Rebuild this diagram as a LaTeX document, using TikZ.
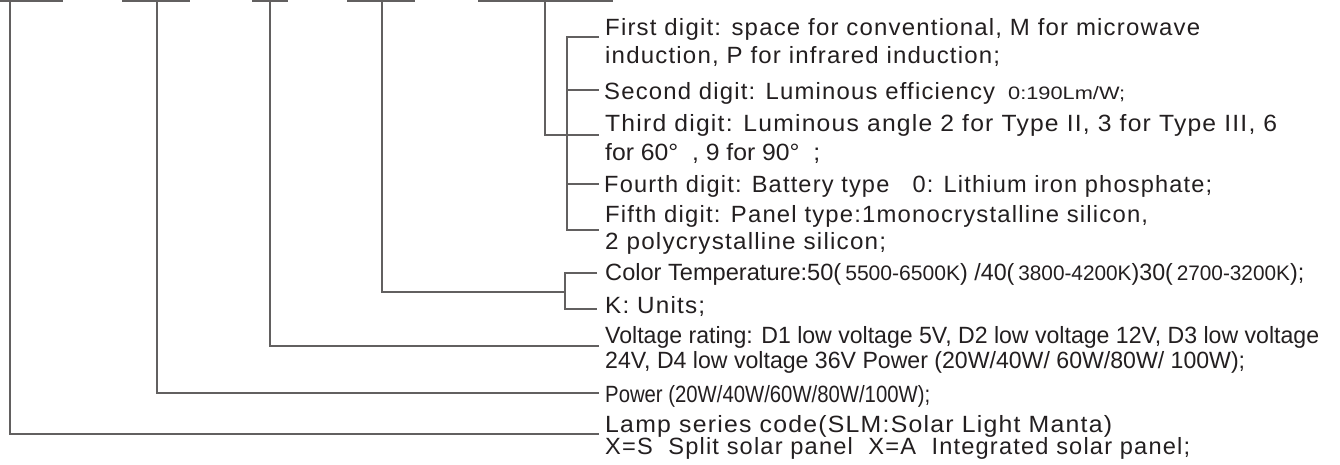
\documentclass[tikz,border=0pt]{standalone}
\usepackage{fontspec}
\setmainfont{Liberation Sans}
\newfontfamily\spacedfont[LetterSpace=5]{Liberation Sans}
\usepackage{graphicx}
\definecolor{ln}{RGB}{98,96,96}
\definecolor{tx}{RGB}{35,31,32}
\newcommand\fitw[2]{\resizebox{#1pt}{\height}{#2}}
\newcommand\smf{\fontsize{21}{24}\selectfont}
\begin{document}
\begin{tikzpicture}[x=1pt,y=-1pt,
  wire/.style={draw=ln,line width=2.5pt,line join=miter,line cap=butt},
  lbl/.style={anchor=base west,inner sep=0pt,text=tx,font=\fontsize{23.5}{27}\selectfont},
  slbl/.style={lbl,font={\spacedfont\fontsize{23.5}{27}\selectfont}},
]
\useasboundingbox[fill=white] (0,0) rectangle (1340,464);

% text lines
\node[slbl] (t1a) at (605,35) {\fitw{595}{First digit: space for conventional, M for microwave}};
\node[slbl] (t1b) at (605,63) {\fitw{395}{induction, P for infrared induction;}};
\node[slbl] (t2) at (604,99) {\fitw{391}{Second digit: Luminous efficiency}};
\node[lbl] (t2b) at (1008,99) {\fitw{117}{\fontsize{18}{21}\selectfont 0:190Lm/W;}};
\node[slbl] (t3a) at (605,131) {\fitw{672}{Third digit: Luminous angle 2 for Type II, 3 for Type III, 6}};
\node[lbl] (t3b) at (605,160) {\fitw{215}{for 60°\ \ , 9 for 90°\ \ ;}};
\node[slbl] (t4) at (604,192) {\fitw{608}{Fourth digit: Battery type\ \ \ 0: Lithium iron phosphate;}};
\node[slbl] (t5a) at (605,222) {\fitw{543}{Fifth digit: Panel type:1monocrystalline silicon,}};
\node[slbl] (t5b) at (605,249) {\fitw{281}{2 polycrystalline silicon;}};
\node[lbl] (t6) at (605,280) {\fitw{355}{Color Temperature:50(\,{\smf 5500-6500K}}\fitw{344}{) /40(\,{\smf 3800-4200K})30(\,{\smf 2700-3200K});}};
\node[slbl] (t7) at (605,313) {\fitw{100}{K: Units;}};
\node[lbl] (t8a) at (605,343) {\fitw{714}{Voltage rating: D1 low voltage 5V, D2 low voltage 12V, D3 low voltage}};
\node[lbl] (t8b) at (605,368) {\fitw{640}{24V, D4 low voltage 36V Power (20W/40W/ 60W/80W/ 100W);}};
\node[lbl] (t9) at (605,402) {\fitw{325}{Power (20W/40W/60W/80W/100W);}};
\node[slbl] (t10a) at (605,432) {\fitw{507}{Lamp series code(SLM:Solar Light Manta)}};
\node[slbl] (t10b) at (605,454) {\fitw{585}{X=S\ \ Split solar panel\ \ X=A\ \ Integrated solar panel;}};

% top bars
\coordinate (b1l) at (0,0.5);   \coordinate (b1r) at (63,0.5);
\coordinate (b2l) at (122,0.5); \coordinate (b2r) at (190,0.5);
\coordinate (b3l) at (252,0.5); \coordinate (b3r) at (288,0.5);
\coordinate (b4l) at (347,0.5); \coordinate (b4r) at (415,0.5);
\coordinate (b5l) at (478,0.5); \coordinate (b5r) at (613,0.5);
\foreach \i in {1,...,5} {\draw[wire] (b\i l) -- (b\i r);}

% stems
\coordinate (s1) at (10,0);
\coordinate (s2) at (157,0);
\coordinate (s3) at (270,0);
\coordinate (s4) at (382,0);
\coordinate (s5) at (545,0);

% lamp series
\coordinate (e10) at (599,434);
\draw[wire] (s1) -- (s1 |- e10) -- (e10);
% power
\coordinate (e9) at (599,393);
\draw[wire] (s2) -- (s2 |- e9) -- (e9);
% voltage
\coordinate (e8) at (599,346);
\draw[wire] (s3) -- (s3 |- e8) -- (e8);
% colour temperature bracket
\coordinate (j4) at (565,292);
\coordinate (e6) at (597,273);
\coordinate (e7) at (597,309);
\draw[wire] (s4) -- (s4 |- j4) -- (j4);
\draw[wire] (e6) -- (j4 |- e6) -- (j4 |- e7) -- (e7);
% digits bracket
\coordinate (j5) at (567,135);
\coordinate (d1) at (599,37);
\coordinate (d2) at (599,90);
\coordinate (d3) at (599,135);
\coordinate (d4) at (599,184);
\coordinate (d5) at (599,230);
\draw[wire] (s5) -- (s5 |- d3) -- (d3);
\draw[wire] (d1) -- (j5 |- d1) -- (j5 |- d5) -- (d5);
\draw[wire] (j5 |- d2) -- (d2);
\draw[wire] (j5 |- d4) -- (d4);
\end{tikzpicture}
\end{document}
